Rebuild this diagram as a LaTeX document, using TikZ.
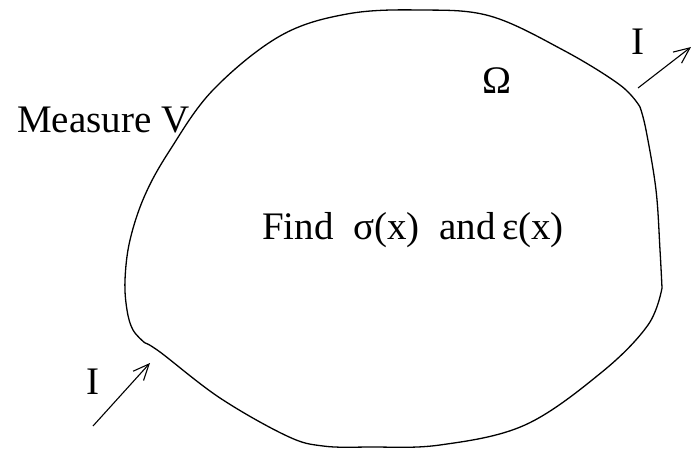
\documentclass[tikz,border=0pt]{standalone}
\usepackage{fontspec}
\setmainfont{Liberation Serif}
\usetikzlibrary{arrows.meta}
\begin{document}
\begin{tikzpicture}[x=1pt,y=-1pt,
  lbl/.style={font=\fontsize{39}{42}\selectfont, inner sep=0pt, anchor=base west},
  outline/.style={line width=1.3pt, line join=round},
  flow/.style={line width=1.1pt, -{Straight Barb[length=16pt,width=14pt,line width=1.1pt]}}]
\useasboundingbox (0,0) rectangle (691,449);
% domain outline
\draw[outline] plot[smooth, tension=0.6] coordinates {(145,343) (133,330) (127,310) (125,280) (130,240) (145,195) (170,150) (213,90) (280,36) (347,14) (420,10) (490,16) (563,50) (620,85) (640,107)}
  -- plot[smooth, tension=0.6] coordinates {(640,107) (646,130) (656,190) (660,250) (662,288)}
  -- plot[smooth, tension=0.6] coordinates {(662,288) (648,325) (602,372) (525,425) (440,445) (370,447) (323,446) (287,436) (220,398) (160,352) (145,343)};
% labels
\node[lbl] (meas) at (17,133) {Measure V};
\node[lbl] (omega) at (482,94) {Ω};
\node[lbl] (find) at (262,240) {Find\ \ σ(x)\ \ and\,ε(x)};
\node[lbl] (iout) at (631,55) {I};
\node[lbl] (iin) at (86,394) {I};
% current arrows
\coordinate (ins) at (93,426);
\coordinate (ine) at (150,363);
\coordinate (outs) at (638,88);
\coordinate (oute) at (691,47);
\draw[flow] (ins) -- (ine);
\draw[flow] (outs) -- (oute);
\end{tikzpicture}
\end{document}
